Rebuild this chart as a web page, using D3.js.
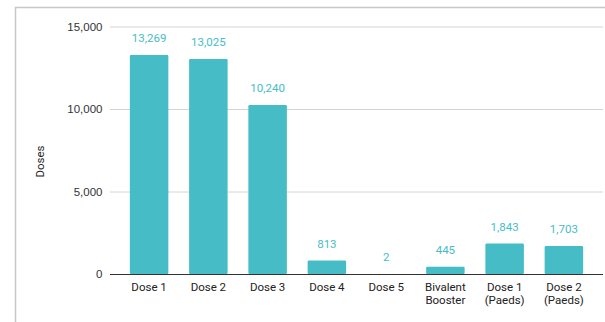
<!DOCTYPE html>
<html><head><meta charset="utf-8">
<script src="https://cdn.jsdelivr.net/npm/d3@7/dist/d3.min.js"></script>
<style>
html,body{margin:0;padding:0;background:#fff;}
svg{display:block;font-family:Roboto, "Liberation Sans", Arial, sans-serif;}
</style></head>
<body>
<svg id="c" width="605" height="322"></svg>
<script>
const categories = [["Dose 1"],["Dose 2"],["Dose 3"],["Dose 4"],["Dose 5"],["Bivalent","Booster"],["Dose 1","(Paeds)"],["Dose 2","(Paeds)"]];
const values = [13269, 13025, 10240, 813, 2, 445, 1843, 1703];
const yTicks = [0, 5000, 10000, 15000];
const yTitle = "Doses";

const svg = d3.select("#c");
// frame
svg.append("path").attr("d","M15.5,330 V7.5 H620").attr("fill","none").attr("stroke","#c8c8c8").attr("stroke-width",1.5);

const x0 = 110, x1 = 603, yBase = 274, yTop = 26.5;
const x = d3.scaleBand().domain(d3.range(values.length)).range([x0, x1]).paddingInner(0.35).paddingOuter(0.335);
const y = d3.scaleLinear().domain([0, 15000]).range([yBase, yTop]);
const fmt = d3.format(",");

// grid
const yAxis = d3.axisLeft(y).tickValues(yTicks).tickFormat(fmt).tickSize(-(x1 - x0)).tickPadding(7);
const gy = svg.append("g").attr("transform", `translate(${x0},0)`).call(yAxis);
gy.select(".domain").remove();
gy.selectAll(".tick line").attr("stroke", "#d4d4d4").attr("stroke-width", 1);
gy.selectAll(".tick text").attr("fill", "#333").attr("font-size", 11.5).attr("dx", -0.5);

// bars
svg.append("g").selectAll("rect").data(values).join("rect")
  .attr("x", (d, i) => x(i))
  .attr("width", x.bandwidth())
  .attr("y", d => y(d))
  .attr("height", d => yBase - y(d))
  .attr("rx", 1.2)
  .attr("fill", "#46bdc6");

// baseline
svg.append("line").attr("x1", x0).attr("x2", x1).attr("y1", yBase + 0.5).attr("y2", yBase + 0.5).attr("stroke", "#333").attr("stroke-width", 1);

// value labels
svg.append("g").selectAll("text").data(values).join("text")
  .attr("x", (d, i) => x(i) + x.bandwidth() / 2)
  .attr("y", d => y(d) - 13)
  .attr("text-anchor", "middle")
  .attr("font-size", 11.5)
  .attr("fill", "#46bdc6")
  .text(d => fmt(d));

// x labels
const xl = svg.append("g").selectAll("text").data(categories).join("text")
  .attr("x", (d, i) => x(i) + x.bandwidth() / 2)
  .attr("y", 291)
  .attr("text-anchor", "middle")
  .attr("font-size", 11.5)
  .attr("fill", "#222");
xl.selectAll("tspan").data(d => d).join("tspan")
  .attr("x", function(){ return this.parentNode.getAttribute("x"); })
  .attr("dy", (d, i) => i === 0 ? 0 : 13)
  .text(d => d);

// y title
svg.append("text").attr("transform", "translate(44,161.5) rotate(-90)")
  .attr("text-anchor", "middle").attr("font-size", 11.5).attr("fill", "#222").text(yTitle);
</script>
</body></html>
